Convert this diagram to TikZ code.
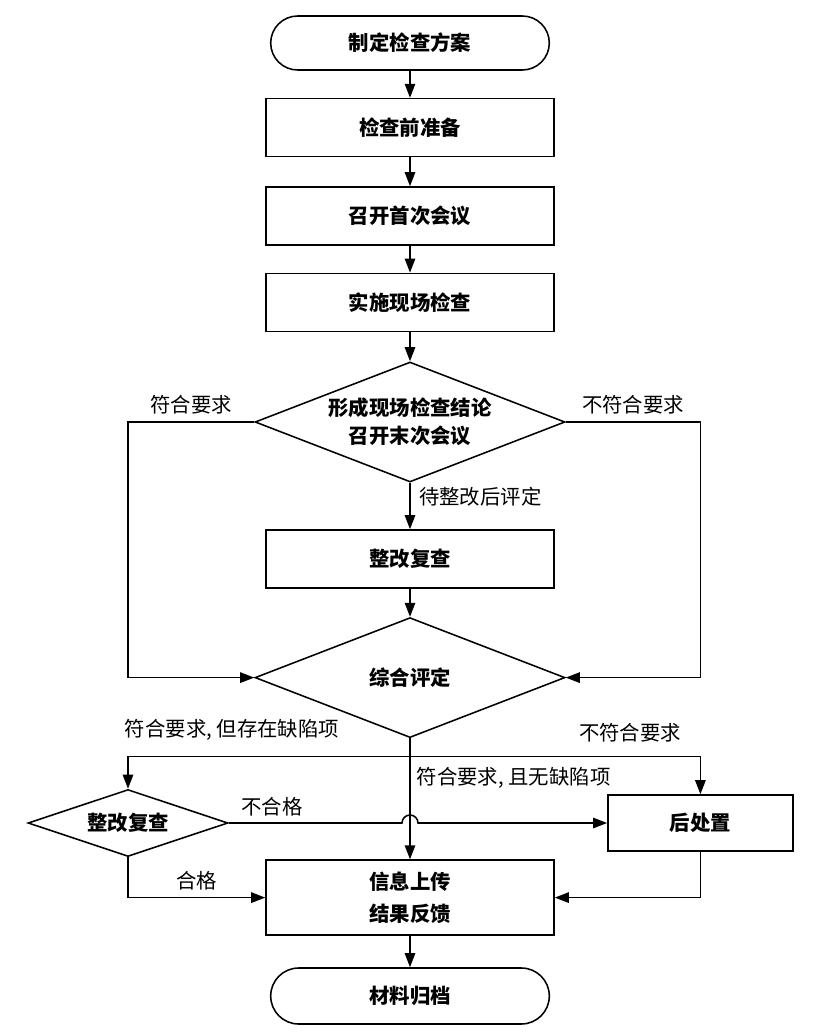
\documentclass[tikz,border=0pt]{standalone}
\usepackage{fontspec}
\newfontfamily\cjk{Noto Sans CJK SC}
\usetikzlibrary{shapes.geometric, shapes.misc, arrows.meta, calc}

\begin{document}
\begin{tikzpicture}[
    font=\cjk\fontsize{14.5}{20}\selectfont,
    >={Triangle[length=3.5mm, width=2.6mm]},
    line width=1.1pt,
    term/.style={
        rounded rectangle,
        draw,
        minimum width=7.2cm,
        minimum height=1.35cm,
        font=\cjk\bfseries\fontsize{14.5}{20}\selectfont
    },
    proc/.style={
        rectangle,
        draw,
        align=center,
        minimum width=7.2cm,
        minimum height=1.45cm,
        font=\cjk\bfseries\fontsize{14.5}{20}\selectfont
    },
    decide/.style={
        diamond,
        draw,
        aspect=2.58,
        inner sep=-5pt,
        align=center,
        minimum width=7.75cm,
        minimum height=3cm,
        font=\cjk\bfseries\fontsize{14.5}{20}\selectfont
    },
    lbl/.style={
        inner sep=2pt
    }
]
\useasboundingbox (0,0) rectangle (20.8,-25.9);

% Main column
\node[term] (plan) at (10.25,-1.075) {制定检查方案};
\node[proc] (prep) at (10.25,-3.19) {检查前准备};
\node[proc] (firstmeet) at (10.25,-5.4) {召开首次会议};
\node[proc] (onsite) at (10.25,-7.56) {实施现场检查};
\node[decide] (concl) at (10.25,-10.55) {形成现场检查结论\\召开末次会议};
\node[proc] (recheck) at (10.25,-13.975) {整改复查};
\node[decide] (judge) at (10.25,-16.94) {综合评定};
\node[proc, minimum height=1.875cm,
      font=\cjk\bfseries\fontsize{14.5}{23}\selectfont] (upload) at (10.25,-22.44) {信息上传\\结果反馈};
\node[term, minimum height=1.4cm] (archive) at (10.25,-24.9) {材料归档};

% Side nodes
\node[decide, aspect=3, minimum width=5cm, minimum height=1.675cm] (fixchk) at (3.2,-20.575) {整改复查};
\node[proc, minimum width=4.625cm, minimum height=1.4cm] (dispose) at (17.51,-20.575) {后处置};

\draw[->] (plan) -- (prep);
\draw[->] (prep) -- (firstmeet);
\draw[->] (firstmeet) -- (onsite);
\draw[->] (onsite) -- (concl);
\draw[->] (concl) -- node[pos=0.3, right, lbl, xshift=4pt] (wait) {待整改后评定} (recheck);
\draw[->] (recheck) -- (judge);

% Loops round the first decision
\draw[->] (concl.west) -- node[midway, above, lbl, yshift=3pt] (okA) {符合要求} (concl.west -| fixchk) |- (judge.west);
\draw[->] (concl.east) -- node[midway, above, lbl, yshift=3pt] (nokA) {不符合要求} (concl.east -| dispose) |- (judge.east);

% Branches below the final decision
\coordinate (split) at ($(judge.south)+(0,-0.45)$);
\draw[->] (judge.south) -- (upload.north);
\draw[->] (split) -| (fixchk.north);
\draw[->] (split) -| (dispose.north);
\node[lbl] (okB) at (5.8,-18.25) {符合要求, 但存在缺陷项};
\node[lbl] (nokB) at (15.75,-18.325) {不符合要求};
\node[lbl, anchor=west] (okC) at (10.33,-19.45) {符合要求, 且无缺陷项};

\draw[->] (fixchk.east) -- ($(fixchk.east -| judge.south)+(-0.2,0)$)
    arc[start angle=180, end angle=0, radius=0.2] -- (dispose.west);
\node[lbl] (fail) at (6.8,-20.175) {不合格};

\draw[->] (fixchk.south) |- node[pos=0.75, above, lbl, yshift=3pt] (pass) {合格} (upload.west);
\draw[->] (dispose.south) |- (upload.east);
\draw[->] (upload) -- (archive);

\end{tikzpicture}
\end{document}
